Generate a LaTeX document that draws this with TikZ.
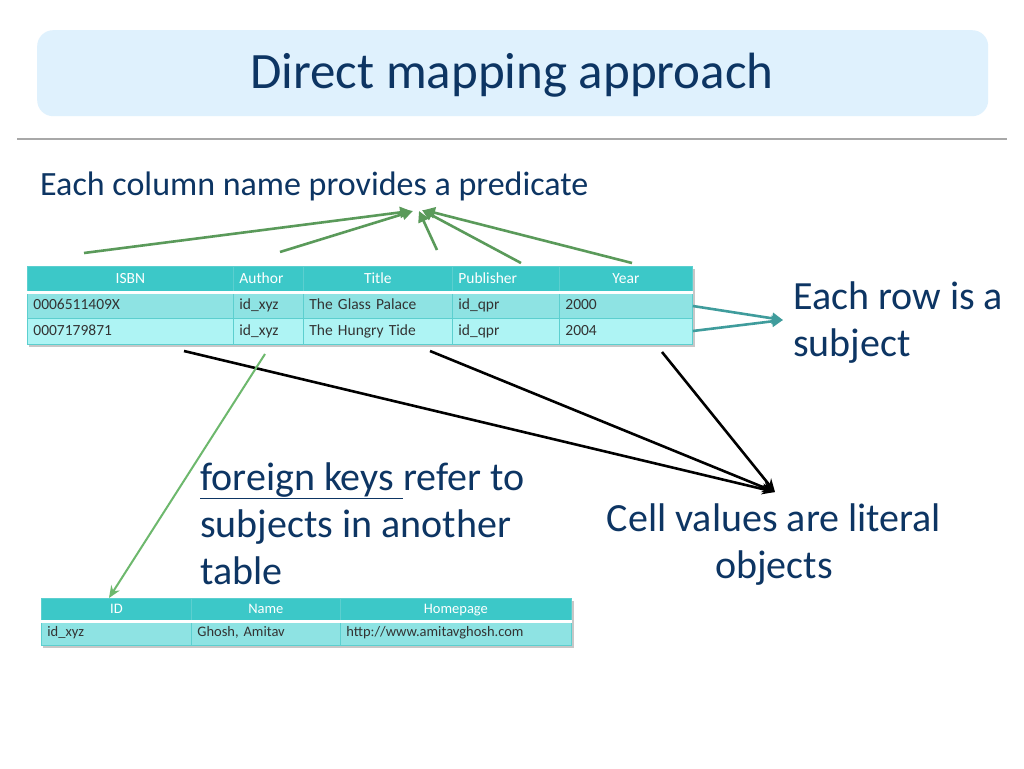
\documentclass[tikz,border=0pt]{standalone}
\usepackage{fontspec}
\setmainfont{Carlito}
\usetikzlibrary{arrows.meta}
\definecolor{navy}{HTML}{0D3563}
\definecolor{titlebg}{HTML}{DFF1FD}
\definecolor{hdrfill}{HTML}{3CC8C8}
\definecolor{rowa}{HTML}{8EE3E3}
\definecolor{rowb}{HTML}{AEF4F4}
\definecolor{gridc}{HTML}{5CCFCF}
\definecolor{arrgreen}{HTML}{5A9A5A}
\definecolor{lightgreen}{HTML}{6DB86D}
\definecolor{arrteal}{HTML}{3F9C9C}
\definecolor{rulegray}{HTML}{A8A8A8}
\frenchspacing
\begin{document}
\begin{tikzpicture}[x=1pt,y=-1pt,
  cell/.style={anchor=north west, inner ysep=0pt, inner xsep=6pt, minimum height=26pt,
    text height=10.5pt, text depth=3pt, font=\fontsize{15.5}{17}\selectfont, draw=gridc, line width=0.8pt},
  hdr/.style={cell, fill=hdrfill, text=white, align=center},
  hdrl/.style={cell, fill=hdrfill, text=white, align=left},
  bodya/.style={cell, fill=rowa, text=black!80, align=left},
  bodyb/.style={cell, fill=rowb, text=black!80, align=left},
  small/.style={font=\fontsize{14.5}{16}\selectfont, text height=10pt, text depth=3pt},
  big/.style={text=navy, inner sep=0pt, font=\fontsize{40}{47}\selectfont},
  greenarr/.style={draw=arrgreen, line width=2.6pt, -{Triangle[length=11pt,width=11pt]}},
  tealarr/.style={draw=arrteal, line width=2.6pt, -{Triangle[length=11pt,width=11pt]}},
  blackarr/.style={draw=black, line width=2.6pt, -{Stealth[length=13pt,width=11pt]}},
  fkarr/.style={draw=lightgreen, line width=2pt, -{Stealth[length=12pt,width=10pt]}}
]
\useasboundingbox (0,0) rectangle (1024,768);
\fill[white] (0,0) rectangle (1024,768);

% title
\node[fill=titlebg, rounded corners=16pt, minimum width=951pt, minimum height=86pt, anchor=north west, inner sep=0pt] (titlebox) at (37,30) {};
\node[text=navy, font=\fontsize{51}{55}\selectfont, inner sep=0pt, anchor=base] (title) at (512,88) {Direct mapping approach};
\draw[rulegray, line width=1.5pt] (17,139) coordinate (rl) -- (1007,139) coordinate (rr);

\node[big, anchor=base west, font=\fontsize{34}{40}\selectfont] (colname) at (40,195) {Each column name provides a predicate};

% table 1 shadow
\fill[black, opacity=0.22] (29,269) rectangle (695,347);
% header
\node[hdr, minimum width=206pt, text width=194pt] (h1) at (27,266) {ISBN};
\node[hdrl, minimum width=70pt, text width=58pt] (h2) at (233,266) {Author};
\node[hdr, minimum width=149pt, text width=137pt] (h3) at (303,266) {Title};
\node[hdrl, minimum width=107pt, text width=95pt] (h4) at (452,266) {Publisher};
\node[hdr, minimum width=133pt, text width=121pt] (h5) at (559,266) {Year};
% row 1
\node[bodya, minimum width=206pt, text width=194pt] (r11) at (27,292) {0006511409X};
\node[bodya, minimum width=70pt, text width=58pt] (r12) at (233,292) {id\_xyz};
\node[bodya, minimum width=149pt, text width=137pt] (r13) at (303,292) {The Glass Palace};
\node[bodya, minimum width=107pt, text width=95pt] (r14) at (452,292) {id\_qpr};
\node[bodya, minimum width=133pt, text width=121pt] (r15) at (559,292) {2000};
% row 2
\node[bodyb, minimum width=206pt, text width=194pt] (r21) at (27,318) {0007179871};
\node[bodyb, minimum width=70pt, text width=58pt] (r22) at (233,318) {id\_xyz};
\node[bodyb, minimum width=149pt, text width=137pt] (r23) at (303,318) {The Hungry Tide};
\node[bodyb, minimum width=107pt, text width=95pt] (r24) at (452,318) {id\_qpr};
\node[bodyb, minimum width=133pt, text width=121pt] (r25) at (559,318) {2004};
\draw[white, line width=3pt] (r11.north west) -- (r15.north east);

% table 2 shadow
\fill[black, opacity=0.22] (43,601) rectangle (574,648);
\node[hdr, small, minimum width=150pt, text width=138pt, minimum height=23pt] (g1) at (41,598) {ID};
\node[hdr, small, minimum width=149pt, text width=137pt, minimum height=23pt] (g2) at (191,598) {Name};
\node[hdr, small, minimum width=231pt, text width=219pt, minimum height=23pt] (g3) at (340,598) {Homepage};
\node[bodya, small, minimum width=150pt, text width=138pt, minimum height=24pt] (s1) at (41,621) {id\_xyz};
\node[bodya, small, minimum width=149pt, text width=137pt, minimum height=24pt] (s2) at (191,621) {Ghosh, Amitav};
\node[bodya, small, minimum width=231pt, text width=219pt, minimum height=24pt] (s3) at (340,621) {http://www.amitavghosh.com};
\draw[white, line width=3pt] (s1.north west) -- (s3.north east);

% texts (base anchor = last line)
\node[big, anchor=base west, align=left] (row) at (793,356) {Each row is a\\subject};
\node[big, anchor=base west, align=left] (fk) at (200,584) {\underline{foreign keys\ }refer to\\subjects in another\\table};
\node[big, anchor=base, align=center] (cell) at (774,578) {Cell values are literal\\objects};

% green arrows to predicate
\coordinate (p1) at (84,253);  \coordinate (q1) at (411,211);
\coordinate (p2) at (280,252); \coordinate (q2) at (413,211);
\coordinate (p3) at (437,250); \coordinate (q3) at (419,211);
\coordinate (p4) at (521,263); \coordinate (q4) at (422,210);
\coordinate (p5) at (632,263); \coordinate (q5) at (424,210);
\draw[greenarr] (p1) -- (q1);
\draw[greenarr] (p2) -- (q2);
\draw[greenarr] (p3) -- (q3);
\draw[greenarr] (p4) -- (q4);
\draw[greenarr] (p5) -- (q5);

% teal arrows to subject
\coordinate (t) at (783,320);
\draw[tealarr] (r15.east |- 0,306) -- (t);
\draw[tealarr] (r25.east |- 0,331) -- (t);

% black arrows to literal objects
\coordinate (b1) at (184,351);
\coordinate (b2) at (430,351);
\coordinate (b3) at (662,352);
\coordinate (bt) at (775,492);
\draw[blackarr] (b1) -- (bt);
\draw[blackarr] (b2) -- (bt);
\draw[blackarr] (b3) -- (bt);

% foreign key arrow
\coordinate (f1) at (265,354);
\draw[fkarr] (f1) -- (g1.north -| 109,0);
\end{tikzpicture}
\end{document}
